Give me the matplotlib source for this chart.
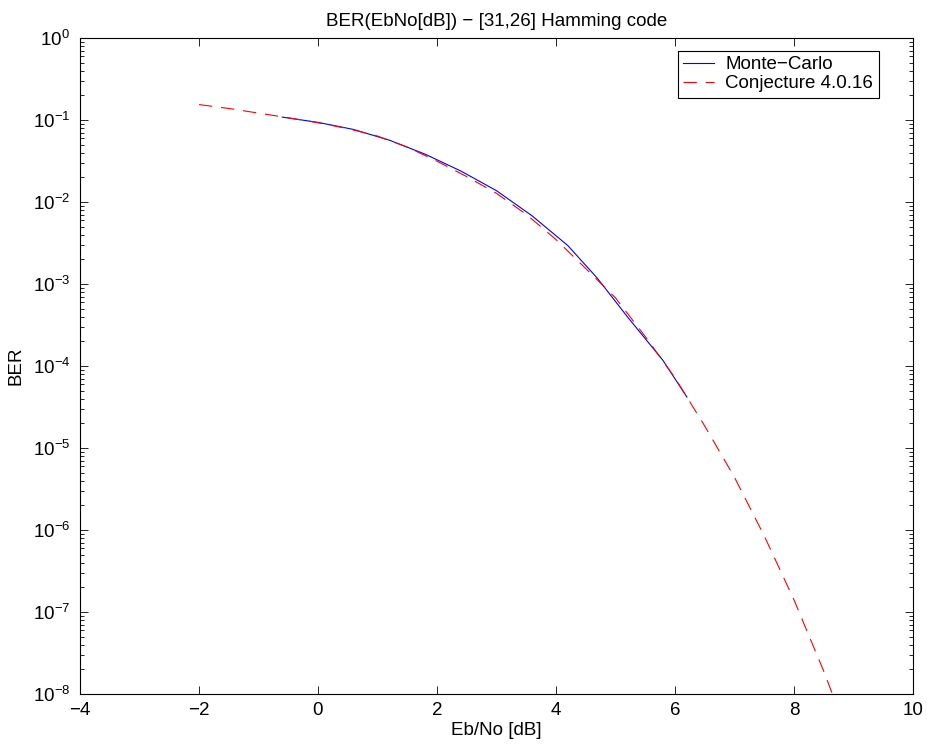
import numpy as np
import matplotlib
matplotlib.use("Agg")
import matplotlib.pyplot as plt

plt.rcParams['font.family'] = ['Liberation Sans', 'DejaVu Sans']

# Monte-Carlo simulation points (Eb/No in dB, BER)
mc_ebno = [-0.6, 0.0, 0.6, 1.2, 1.8, 2.4, 3.0, 3.6, 4.2, 4.7, 5.2, 5.8, 6.2]
mc_ber = [0.109, 0.094, 0.077, 0.057, 0.0385, 0.024, 0.0138, 0.0068,
          0.00295, 0.00117, 4.0e-4, 1.17e-4, 4.2e-5]

# conjecture 4.0.16 curve
cj_ebno = [-2.0, -1.5, -1.0, -0.5, 0.0, 0.5, 1.0, 1.5, 2.0, 2.5, 3.0, 3.5,
           4.0, 4.5, 5.0, 5.5, 6.0, 6.5, 7.0, 7.5, 8.0, 8.5, 8.7]
cj_ber = [0.155, 0.139, 0.122, 0.107, 0.093, 0.079, 0.064, 0.047, 0.0316,
          0.0205, 0.0128, 0.0071, 0.0035, 0.00155, 6.8e-4, 2.3e-4, 7.2e-5,
          1.86e-5, 4.4e-6, 8.5e-7, 1.41e-7, 1.9e-8, 7.9e-9]

fig = plt.figure(figsize=(9.28, 7.49), dpi=100)
ax = fig.add_axes([0.0862, 0.0734, 0.8976, 0.8756])

ax.semilogy(mc_ebno, mc_ber, color='blue', lw=0.8, label='Monte\u2212Carlo')
ax.semilogy(cj_ebno, cj_ber, color='red', lw=0.8, dashes=(12, 8),
            label='Conjecture 4.0.16')

ax.set_xlim(-4, 10)
ax.set_ylim(1e-8, 1)
ax.set_xticks(range(-4, 11, 2))
ax.set_yticks([10.0**k for k in range(-8, 1)])

ax.tick_params(which='both', direction='in', top=True, right=True,
               labelsize=13.5, width=0.6)
ax.tick_params(which='major', length=5.5)
ax.tick_params(axis='x', pad=6)
ax.tick_params(axis='y', pad=7)
ax.tick_params(which='minor', length=3)
for s in ax.spines.values():
    s.set_linewidth(0.8)

ax.set_xlabel('Eb/No [dB]', fontsize=13.5, labelpad=2)
ax.set_ylabel('BER', fontsize=13.5, labelpad=6)
ax.set_title('BER(EbNo[dB]) \u2212 [31,26] Hamming code', fontsize=13.5, pad=9)

leg = ax.legend(loc='upper right', bbox_to_anchor=(0.959, 0.981),
                fontsize=13.5, fancybox=False, framealpha=1,
                edgecolor='black', handlelength=1.65, borderpad=0.3,
                labelspacing=0.1, handletextpad=0.6, borderaxespad=0)
leg.get_frame().set_linewidth(0.8)

fig.savefig('out.png', dpi=100)
